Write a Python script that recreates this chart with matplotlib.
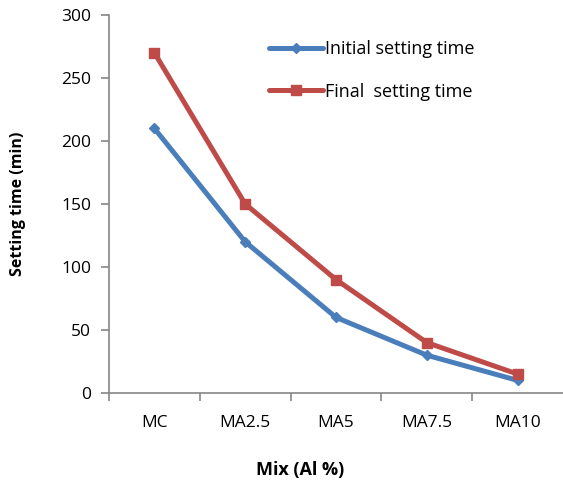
import matplotlib.pyplot as plt
import numpy as np

plt.rcParams['font.family'] = ['Open Sans', 'DejaVu Sans']

mixes = ["MC", "MA2.5", "MA5", "MA7.5", "MA10"]
initial_time = [210, 120, 60, 30, 10]
final_time = [270, 150, 90, 40, 15]

blue = "#4A7EBB"
red = "#BE4B48"
grey = "#868686"

fig = plt.figure(figsize=(5.63, 4.86), dpi=100)
ax = fig.add_axes([109 / 563, 1 - 393 / 486, 454 / 563, 378 / 486])

x = np.arange(len(mixes))
ax.plot(x, initial_time, color=blue, lw=3.6, marker="D", ms=5,
        label="Initial setting time", solid_capstyle="round")
ax.plot(x, final_time, color=red, lw=3.6, marker="s", ms=7,
        label="Final  setting time", solid_capstyle="round")

ax.set_xlim(-0.5, len(mixes) - 0.5)
ax.set_ylim(0, 300)
ax.set_yticks(range(0, 301, 50))
ax.set_xticks(x)
ax.set_xticklabels(mixes)
# category boundaries get the tick marks, labels sit between them
ax.set_xticks(np.arange(-0.5, len(mixes) - 0.5, 1), minor=True)

for side in ("top", "right"):
    ax.spines[side].set_visible(False)
for side in ("left", "bottom"):
    ax.spines[side].set_color(grey)
    ax.spines[side].set_linewidth(1.2)

ax.tick_params(axis="y", direction="out", length=6, color=grey, labelsize=12.5,
               pad=7, width=1.2)
ax.tick_params(axis="x", which="major", length=0, labelsize=12.5, pad=16)
ax.tick_params(axis="x", which="minor", direction="out", length=6, color=grey,
               width=1.2)

fig.text(0.032, 1 - 204 / 486, "Setting time (min)", rotation=90, ha="center",
         va="center", fontsize=11.5, fontweight="bold")
fig.text(300 / 563, 1 - 470 / 486, "Mix (Al %)", ha="center", va="center",
         fontsize=13, fontweight="bold")

ax.legend(loc="upper left", bbox_to_anchor=(153 / 454, 1 - 18 / 378),
          frameon=False, fontsize=13, handlelength=3.0, handletextpad=0.1,
          labelspacing=1.35, borderaxespad=0)

fig.savefig("out.png", dpi=100)
